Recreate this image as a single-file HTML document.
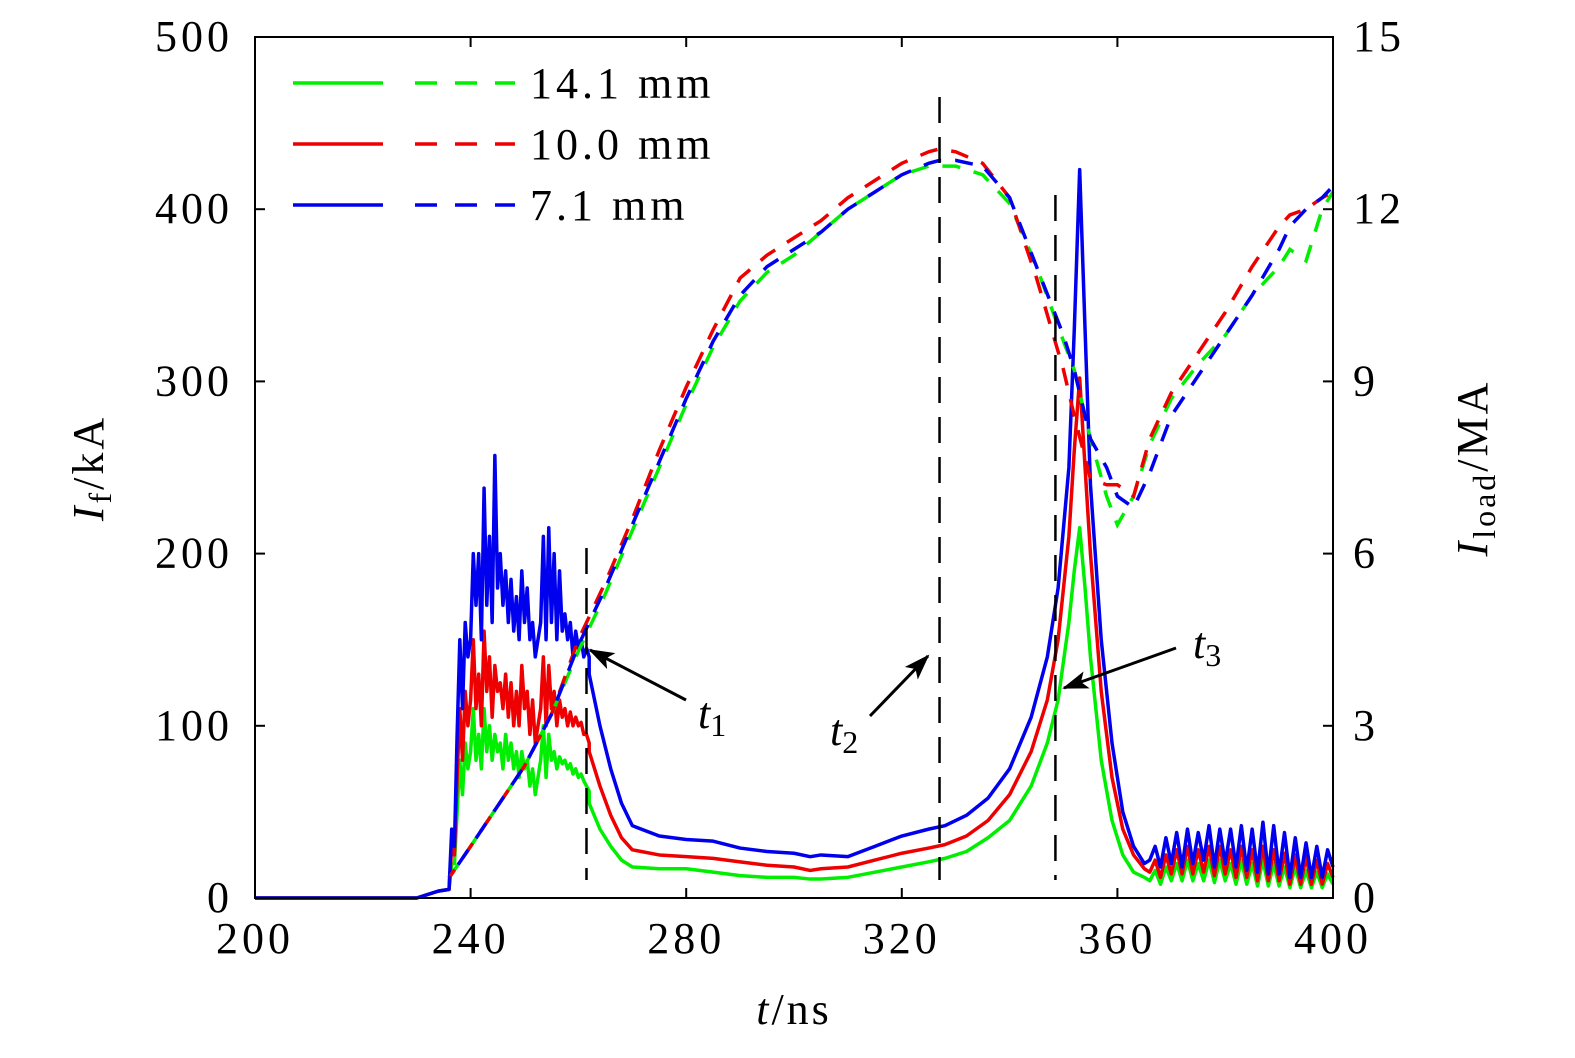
<!DOCTYPE html>
<html><head><meta charset="utf-8"><style>
html,body{margin:0;padding:0;background:#fff}
svg text{font-family:"Liberation Serif",serif;fill:#000}
</style></head><body>
<svg id="chart" width="1575" height="1053" xmlns="http://www.w3.org/2000/svg">
<g id="marks"></g>
<g id="axes"></g>
</svg>
<script>
// ---- data ----
const xTicks=[200,240,280,320,360,400];
const yLeftTicks=[0,100,200,300,400,500];
const yRightTicks=[0,3,6,9,12,15];
const seriesNames=["14.1 mm","10.0 mm","7.1 mm"];
const tNoise=[236,236.5,237,237.5,238,238.5,239,239.5,240,240.5,241,241.5,242,242.5,243,243.5,244,244.5,245,245.5,246,246.5,247,247.5,248,248.5,249,249.5,250,250.5,251,251.5,252,252.5,253,253.5,254,254.5,255,255.5,256,256.5,257,257.5,258,258.5,259,259.5,260,260.5,261,261.5,262];
const blueNoise=[5,40,30,95,150,110,160,140,150,200,170,200,150,238,170,210,160,257,180,200,170,190,160,185,155,175,150,190,160,180,150,160,140,150,160,210,150,215,160,200,150,190,155,165,150,160,140,155,145,150,140,145,140];
const redNoise=[5,30,25,70,110,80,120,100,115,150,110,130,100,155,120,140,105,135,120,125,110,130,105,125,100,120,100,135,110,120,95,115,90,100,110,140,100,135,110,120,100,115,105,110,100,108,100,105,100,102,95,95,90];
const greenNoise=[5,20,20,50,80,60,90,75,85,110,80,95,75,110,85,100,80,95,85,90,75,95,80,90,75,85,70,85,75,80,65,75,60,70,80,100,70,95,80,85,75,82,78,80,75,78,72,75,70,72,68,65,62];
const tSmooth=[262,264,266,268,270,275,280,285,290,295,300,303,305,310,315,320,325,328,332,336,340,344,347,349,351,352,353,354,355,357,359,361,363,365];
const blueSmooth=[130,100,75,55,42,36,34,33,29,27,26,24,25,24,30,36,40,42,48,58,75,105,140,180,250,330,423,330,240,150,90,50,30,20];
const redSmooth=[85,65,48,35,28,25,24,23,21,19,18,16,17,18,22,26,29,31,36,45,60,85,115,150,210,260,302,250,200,120,70,40,25,17];
const greenSmooth=[55,40,30,22,18,17,17,15,13,12,12,11,11,12,15,18,21,23,27,35,45,65,90,115,160,190,215,180,140,80,45,25,15,12];
const tOsc=[366,367,368,369,370,371,372,373,374,375,376,377,378,379,380,381,382,383,384,385,386,387,388,389,390,391,392,393,394,395,396,397,398,399,400];
const blueOsc=[22,30,18,35,20,38,18,40,20,38,22,42,18,40,20,40,18,42,16,40,15,44,14,42,14,38,12,35,12,32,12,30,12,28,18];
const redOsc=[15,22,12,25,14,28,14,30,14,28,15,30,13,30,14,28,12,30,12,28,10,30,10,28,10,26,8,25,8,24,8,22,8,20,12];
const greenOsc=[10,16,8,18,10,20,10,22,10,20,10,22,9,22,10,20,8,22,8,20,7,22,7,20,7,18,6,18,6,16,6,15,6,14,8];
const tLoad=[236,240,245,250,255,260,265,270,275,280,285,290,295,300,305,310,315,320,325,327,330,335,340,345,350,352,355,358,360,363,366,370,375,380,385,390,392,395,398,400];
const greenLoad=[0.35,0.9,1.6,2.3,3.2,4.3,5.3,6.4,7.5,8.6,9.6,10.4,10.9,11.2,11.6,12.0,12.3,12.6,12.75,12.75,12.75,12.6,12.1,11.0,9.7,9.2,8.0,7.0,6.5,7.0,7.9,8.7,9.3,9.8,10.5,11.0,11.3,11.1,12.0,12.3];
const redLoad=[0.35,0.9,1.6,2.3,3.2,4.5,5.5,6.6,7.8,8.9,9.9,10.8,11.2,11.5,11.8,12.2,12.5,12.8,13.0,13.05,13.0,12.8,12.2,10.8,9.2,8.4,7.3,7.2,7.2,7.0,8.0,8.8,9.5,10.2,11.0,11.7,11.9,12.0,12.2,12.3];
const blueLoad=[0.35,0.9,1.6,2.3,3.2,4.4,5.4,6.5,7.6,8.7,9.7,10.5,11.0,11.3,11.6,12.0,12.3,12.6,12.8,12.85,12.85,12.75,12.2,11.0,9.8,9.2,8.0,7.5,7.0,6.8,7.4,8.4,9.1,9.8,10.5,11.3,11.7,12.0,12.2,12.4];
const markerTimes=[261.5,327,348.5];

// ---- axes ----
const L=255,R=1333,T=37,B=898;
const X=t=>L+(t-200)/200*(R-L);
const YL=v=>B-v/500*(B-T);
const YR=v=>B-v/15*(B-T);
const NS="http://www.w3.org/2000/svg";
const marks=document.getElementById('marks'),axes=document.getElementById('axes');
function mk(tag,attrs,parent){const e=document.createElementNS(NS,tag);for(const k in attrs)e.setAttribute(k,attrs[k]);parent.appendChild(e);return e;}
const colors=["#00ee00","#ee0000","#0000ee"];
function solid(i,ts,vs){return ts.map((t,j)=>[X(t),YL(vs[j])]);}
const sets=[[greenNoise,greenSmooth,greenOsc],[redNoise,redSmooth,redOsc],[blueNoise,blueSmooth,blueOsc]];
const loads=[greenLoad,redLoad,blueLoad];
const solidNames=['solid-14-1mm','solid-10-0mm','solid-7-1mm'];
const dashNames=['dashed-14-1mm','dashed-10-0mm','dashed-7-1mm'];
for(let i=0;i<3;i++){
 const pts=[[X(200),YL(0)],[X(230),YL(0)],[X(234),YL(4)]].concat(solid(i,tNoise,sets[i][0]),solid(i,tSmooth,sets[i][1]),solid(i,tOsc,sets[i][2]));
 const p=mk('polyline',{points:pts.map(q=>q.join(',')).join(' '),fill:'none',stroke:colors[i],'stroke-width':3.5,'stroke-linejoin':'round'},marks);
 
 
}
for(let i=0;i<3;i++){
 const pts=tLoad.map((t,j)=>X(t)+','+YR(loads[i][j]));
 const p=mk('polyline',{points:pts.join(' '),fill:'none',stroke:colors[i],'stroke-width':3.5,'stroke-dasharray':'18,14','stroke-dashoffset':i*8},marks);
 
 
}
const vTops=[548,97,195];
for(let i=0;i<3;i++){
 const l=mk('line',{x1:X(markerTimes[i]),x2:X(markerTimes[i]),y1:vTops[i],y2:B-18,stroke:'#000','stroke-width':2.5,'stroke-dasharray':'26,14'},marks);
 
 
}
const f=mk('rect',{x:L,y:T,width:R-L,height:B-T,fill:'none',stroke:'#000','stroke-width':2},axes);


const FS=44, LS=4;
xTicks.forEach(v=>{
 mk('line',{x1:X(v),x2:X(v),y1:B,y2:B-10,stroke:'#000','stroke-width':2},axes);
 mk('line',{x1:X(v),x2:X(v),y1:T,y2:T+10,stroke:'#000','stroke-width':2},axes);
 const t=mk('text',{x:X(v),y:953,'font-size':FS,'letter-spacing':LS,'text-anchor':'middle'},axes);t.textContent=v;
 
 
});
yLeftTicks.forEach(v=>{
 mk('line',{x1:L,x2:L+10,y1:YL(v),y2:YL(v),stroke:'#000','stroke-width':2},axes);
 const t=mk('text',{x:233,y:YL(v)+14,'font-size':FS,'letter-spacing':LS,'text-anchor':'end'},axes);t.textContent=v;
 
 
});
yRightTicks.forEach(v=>{
 mk('line',{x1:R,x2:R-10,y1:YR(v),y2:YR(v),stroke:'#000','stroke-width':2},axes);
 const t=mk('text',{x:1353,y:YR(v)+14,'font-size':FS,'letter-spacing':LS,'text-anchor':'start'},axes);t.textContent=v;
 
 
});
for(let i=0;i<3;i++){
 const y=83+i*61;
 mk('line',{x1:293,x2:383,y1:y,y2:y,stroke:colors[i],'stroke-width':3.5},axes);
 mk('line',{x1:415,x2:515,y1:y,y2:y,stroke:colors[i],'stroke-width':3.5,'stroke-dasharray':'22,18'},axes);
 const t=mk('text',{x:530,y:y+15,'font-size':FS,'letter-spacing':LS},axes);t.textContent=seriesNames[i];
 
 
}
</script>
<svg style="position:absolute;left:0;top:0" width="1575" height="1053">
<defs><marker id="arr" markerWidth="26" markerHeight="18" refX="24" refY="9" orient="auto" markerUnits="userSpaceOnUse"><path d="M0,0 L26,9 L0,18 L6,9 z" fill="#000"/></marker></defs>
<line x1="686" y1="700" x2="590" y2="650" stroke="#000" stroke-width="3" marker-end="url(#arr)"/>
<line x1="870" y1="716" x2="928" y2="656" stroke="#000" stroke-width="3" marker-end="url(#arr)"/>
<line x1="1176" y1="648" x2="1064" y2="688" stroke="#000" stroke-width="3" marker-end="url(#arr)"/>
<text x="698" y="728" font-size="44" font-style="italic" font-family="Liberation Serif, serif">t<tspan font-size="32" dy="8" font-style="normal">1</tspan></text>
<text x="830" y="745" font-size="44" font-style="italic" font-family="Liberation Serif, serif">t<tspan font-size="32" dy="8" font-style="normal">2</tspan></text>
<text x="1193" y="658" font-size="44" font-style="italic" font-family="Liberation Serif, serif">t<tspan font-size="32" dy="8" font-style="normal">3</tspan></text>
<text x="794" y="1024" font-size="44" letter-spacing="3" text-anchor="middle" font-family="Liberation Serif, serif"><tspan font-style="italic">t</tspan>/ns</text>
<text transform="translate(103,468) rotate(-90)" font-size="44" letter-spacing="3" text-anchor="middle" font-family="Liberation Serif, serif"><tspan font-style="italic">I</tspan><tspan font-size="32" dy="8">f</tspan><tspan dy="-8">/kA</tspan></text>
<text transform="translate(1487,468) rotate(-90)" font-size="44" letter-spacing="3" text-anchor="middle" font-family="Liberation Serif, serif"><tspan font-style="italic">I</tspan><tspan font-size="32" dy="8">load</tspan><tspan dy="-8">/MA</tspan></text>
</svg>
</body></html>
